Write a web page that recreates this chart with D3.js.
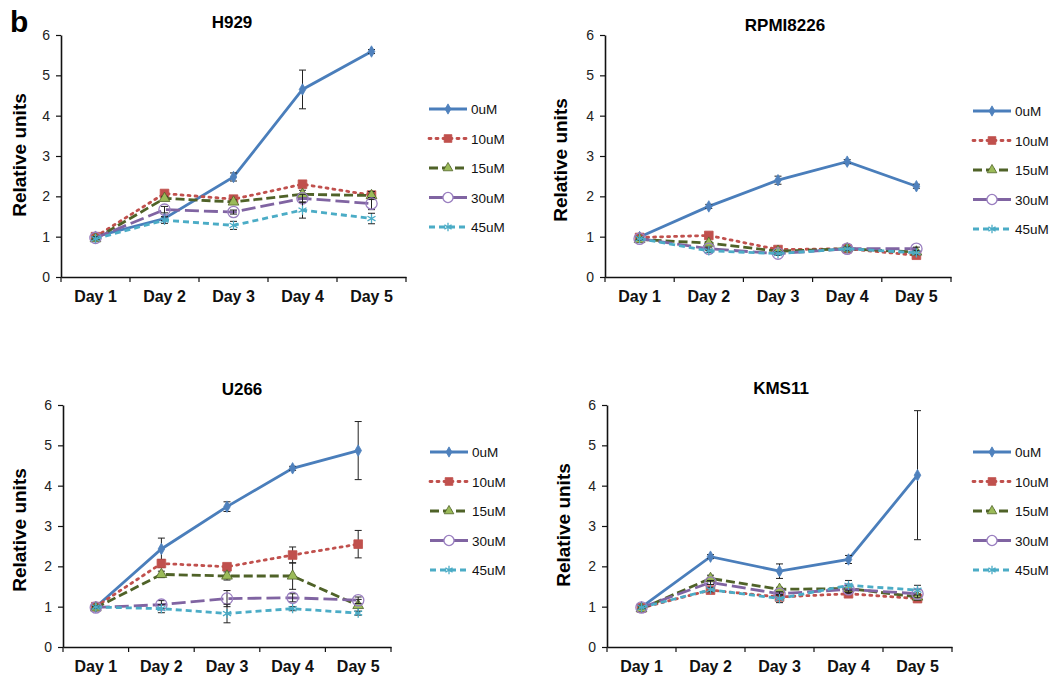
<!DOCTYPE html>
<html>
<head>
<meta charset="utf-8">
<script src="https://cdn.jsdelivr.net/npm/d3@7"></script>
<style>
  body { margin: 0; background: #fff; }
  text { font-family: "Liberation Sans", Arial, sans-serif; }
</style>
</head>
<body>
<script>
// categories
var days = ["Day 1", "Day 2", "Day 3", "Day 4", "Day 5"];
var doses = ["0uM", "10uM", "15uM", "30uM", "45uM"];
var yTicks = [0, 1, 2, 3, 4, 5, 6];

// values per dose (rows) and day (columns)
var h929Means = [
  [1.00, 1.45, 2.48, 4.65, 5.59],
  [1.00, 2.07, 1.93, 2.30, 2.03],
  [0.95, 1.95, 1.86, 2.05, 2.02],
  [0.97, 1.67, 1.61, 1.95, 1.82],
  [0.95, 1.41, 1.28, 1.66, 1.45]
];
var h929Errors = [
  [0.03, 0.05, 0.10, 0.48, 0.05],
  [0.03, 0.05, 0.05, 0.05, 0.05],
  [0.03, 0.05, 0.05, 0.10, 0.10],
  [0.03, 0.08, 0.05, 0.10, 0.15],
  [0.03, 0.08, 0.10, 0.20, 0.13]
];
var rpmiMeans = [
  [0.99, 1.75, 2.40, 2.86, 2.25],
  [0.98, 1.03, 0.68, 0.70, 0.54],
  [0.93, 0.84, 0.64, 0.70, 0.62],
  [0.95, 0.70, 0.58, 0.70, 0.70],
  [0.95, 0.65, 0.58, 0.70, 0.60]
];
var rpmiErrors = [
  [0.03, 0.05, 0.10, 0.05, 0.05],
  [0.03, 0.05, 0.04, 0.04, 0.04],
  [0.03, 0.04, 0.04, 0.04, 0.04],
  [0.03, 0.04, 0.04, 0.04, 0.04],
  [0.03, 0.04, 0.04, 0.04, 0.04]
];
var u266Means = [
  [0.99, 2.43, 3.48, 4.43, 4.87],
  [1.00, 2.07, 1.99, 2.28, 2.55],
  [0.97, 1.80, 1.76, 1.76, 1.03],
  [0.98, 1.05, 1.20, 1.22, 1.16],
  [0.99, 0.95, 0.83, 0.95, 0.84]
];
var u266Errors = [
  [0.03, 0.27, 0.12, 0.05, 0.72],
  [0.03, 0.10, 0.08, 0.20, 0.34],
  [0.03, 0.08, 0.10, 0.33, 0.15],
  [0.03, 0.10, 0.20, 0.10, 0.08],
  [0.03, 0.10, 0.23, 0.05, 0.05]
];
var kms11Means = [
  [0.99, 2.24, 1.88, 2.17, 4.26],
  [0.97, 1.41, 1.24, 1.32, 1.20],
  [0.95, 1.70, 1.43, 1.45, 1.24],
  [0.98, 1.60, 1.32, 1.43, 1.32],
  [0.98, 1.42, 1.20, 1.53, 1.41]
];
var kms11Errors = [
  [0.03, 0.05, 0.18, 0.10, 1.60],
  [0.03, 0.05, 0.05, 0.08, 0.05],
  [0.03, 0.08, 0.05, 0.10, 0.08],
  [0.03, 0.05, 0.05, 0.10, 0.10],
  [0.03, 0.05, 0.10, 0.12, 0.12]
];

// styles of each dose series
var styles = [
  {line: "#4a7ebb", dash: null,   marker: d3.symbolDiamond,  size: 38, fill: "#4f81bd", stroke: "#4f81bd"},
  {line: "#c0504d", dash: "2,5",  marker: d3.symbolSquare,   size: 75, fill: "#c0504d", stroke: "#c0504d"},
  {line: "#4f6228", dash: "9,4",  marker: d3.symbolTriangle, size: 50, fill: "#9bbb59", stroke: "#4f6228"},
  {line: "#8064a2", dash: "14,5", marker: d3.symbolCircle,   size: 100, fill: "none",   stroke: "#9a7fc0"},
  {line: "#4bacc6", dash: "6,4",  marker: d3.symbolAsterisk, size: 60, fill: "none",    stroke: "#4bacc6"}
];

// panel layout
var panels = [
  {title: "H929", means: h929Means, errors: h929Errors,
   x0: 61, x1: 406, yTop: 35, yBot: 277, titleX: 232, titleY: 28, labX: 21, labY: 155, legX: 429, legY: 109},
  {title: "RPMI8226", means: rpmiMeans, errors: rpmiErrors,
   x0: 605, x1: 951, yTop: 35, yBot: 277, titleX: 785, titleY: 31, labX: 562, labY: 160, legX: 973, legY: 111},
  {title: "U266", means: u266Means, errors: u266Errors,
   x0: 63, x1: 391, yTop: 405, yBot: 647, titleX: 242, titleY: 395, labX: 21, labY: 530, legX: 430, legY: 452},
  {title: "KMS11", means: kms11Means, errors: kms11Errors,
   x0: 607, x1: 952, yTop: 405, yBot: 647, titleX: 781, titleY: 394, labX: 565, labY: 525, legX: 973, legY: 452}
];

var width = 1051;
var height = 684;

var svg = d3.select('body')
    .append('svg')
    .attr('width', width)
    .attr('height', height);

// panel letter
svg.append('text')
    .attr('x', 10)
    .attr('y', 32)
    .attr('font-size', 30)
    .attr('font-weight', 'bold')
    .text('b');

panels.forEach(function(p) {
    var g = svg.append('g');

    var xScale = d3.scaleBand()
        .domain(days)
        .range([p.x0, p.x1]);

    var yScale = d3.scaleLinear()
        .domain([0, 6])
        .range([p.yBot, p.yTop]);

    // y axis
    var yAxis = d3.axisLeft(yScale)
        .tickValues(yTicks)
        .tickFormat(d3.format('d'))
        .tickSize(5)
        .tickPadding(6)
        .tickSizeOuter(0);
    var yg = g.append('g')
        .attr('transform', 'translate(' + p.x0 + ',0)')
        .call(yAxis);
    yg.select('.domain').attr('stroke', '#111').attr('stroke-width', 1.6);
    yg.selectAll('.tick line').attr('stroke', '#111').attr('stroke-width', 1.2);
    yg.selectAll('.tick text')
        .attr('font-size', 14)
        .attr('fill', '#222')
        .attr('font-family', '"Liberation Sans", Arial, sans-serif');

    // x axis: labels in band centres, tick marks on band edges
    var xAxis = d3.axisBottom(xScale)
        .tickSize(0)
        .tickPadding(14)
        .tickSizeOuter(0);
    var xg = g.append('g')
        .attr('transform', 'translate(0,' + p.yBot + ')')
        .call(xAxis);
    xg.select('.domain').attr('stroke', '#111').attr('stroke-width', 1.6);
    xg.selectAll('.tick text')
        .attr('font-size', 16)
        .attr('font-weight', 'bold')
        .attr('fill', '#111')
        .attr('font-family', '"Liberation Sans", Arial, sans-serif');

    var edges = days.map(function(d) { return xScale(d); }).concat([xScale.range()[1]]);
    g.selectAll('.xtick')
        .data(edges)
        .enter()
        .append('line')
        .attr('x1', function(d) { return d; })
        .attr('x2', function(d) { return d; })
        .attr('y1', p.yBot)
        .attr('y2', p.yBot + 5)
        .attr('stroke', '#111')
        .attr('stroke-width', 1.2);

    // title
    g.append('text')
        .attr('x', p.titleX)
        .attr('y', p.titleY)
        .attr('text-anchor', 'middle')
        .attr('font-size', 17)
        .attr('font-weight', 'bold')
        .text(p.title);

    // y axis label
    g.append('text')
        .attr('transform', 'translate(' + p.labX + ',' + p.labY + ') rotate(-90)')
        .attr('text-anchor', 'middle')
        .attr('dominant-baseline', 'middle')
        .attr('font-size', 19)
        .attr('font-weight', 'bold')
        .text('Relative units');

    var cx = function(i) { return xScale(days[i]) + xScale.bandwidth() / 2; };

    var line = d3.line()
        .x(function(d, i) { return cx(i); })
        .y(function(d) { return yScale(d); });

    // series
    p.means.forEach(function(vals, s) {
        var st = styles[s];
        var errs = p.errors[s];

        g.append('path')
            .datum(vals)
            .attr('d', line)
            .attr('fill', 'none')
            .attr('stroke', st.line)
            .attr('stroke-width', 2.8)
            .attr('stroke-dasharray', st.dash)
            .attr('stroke-linecap', s === 1 ? 'round' : 'butt');

        // error bars
        vals.forEach(function(v, i) {
            var e = errs[i];
            var x = cx(i);
            var eg = g.append('g')
                .attr('stroke', '#222')
                .attr('stroke-width', 1);
            eg.append('line')
                .attr('x1', x).attr('x2', x)
                .attr('y1', yScale(v - e)).attr('y2', yScale(v + e));
            [v - e, v + e].forEach(function(b) {
                eg.append('line')
                    .attr('x1', x - 3.5).attr('x2', x + 3.5)
                    .attr('y1', yScale(b)).attr('y2', yScale(b));
            });
        });

        g.selectAll('.m' + s)
            .data(vals)
            .enter()
            .append('path')
            .attr('transform', function(d, i) {
                return 'translate(' + cx(i) + ',' + yScale(d) + ')';
            })
            .attr('d', d3.symbol().type(st.marker).size(st.size))
            .attr('fill', st.fill)
            .attr('stroke', st.stroke)
            .attr('stroke-width', st.fill === 'none' ? 1.3 : 0.8);
    });

    // legend
    doses.forEach(function(name, s) {
        var st = styles[s];
        var ly = p.legY + s * 29.5;
        g.append('line')
            .attr('x1', p.legX).attr('x2', p.legX + 38)
            .attr('y1', ly).attr('y2', ly)
            .attr('stroke', st.line)
            .attr('stroke-width', 2.8)
            .attr('stroke-dasharray', s === 3 ? null : st.dash)
            .attr('stroke-linecap', s === 1 ? 'round' : 'butt');
        g.append('path')
            .attr('transform', 'translate(' + (p.legX + 19) + ',' + ly + ')')
            .attr('d', d3.symbol().type(st.marker).size(st.size * 0.8))
            .attr('fill', st.fill === 'none' ? '#fff' : st.fill)
            .attr('stroke', st.stroke)
            .attr('stroke-width', st.fill === 'none' ? 1.3 : 0.8);
        g.append('text')
            .attr('x', p.legX + 42)
            .attr('y', ly + 5)
            .attr('font-size', 13.5)
            .attr('fill', '#111')
            .text(name);
    });
});
</script>
</body>
</html>
